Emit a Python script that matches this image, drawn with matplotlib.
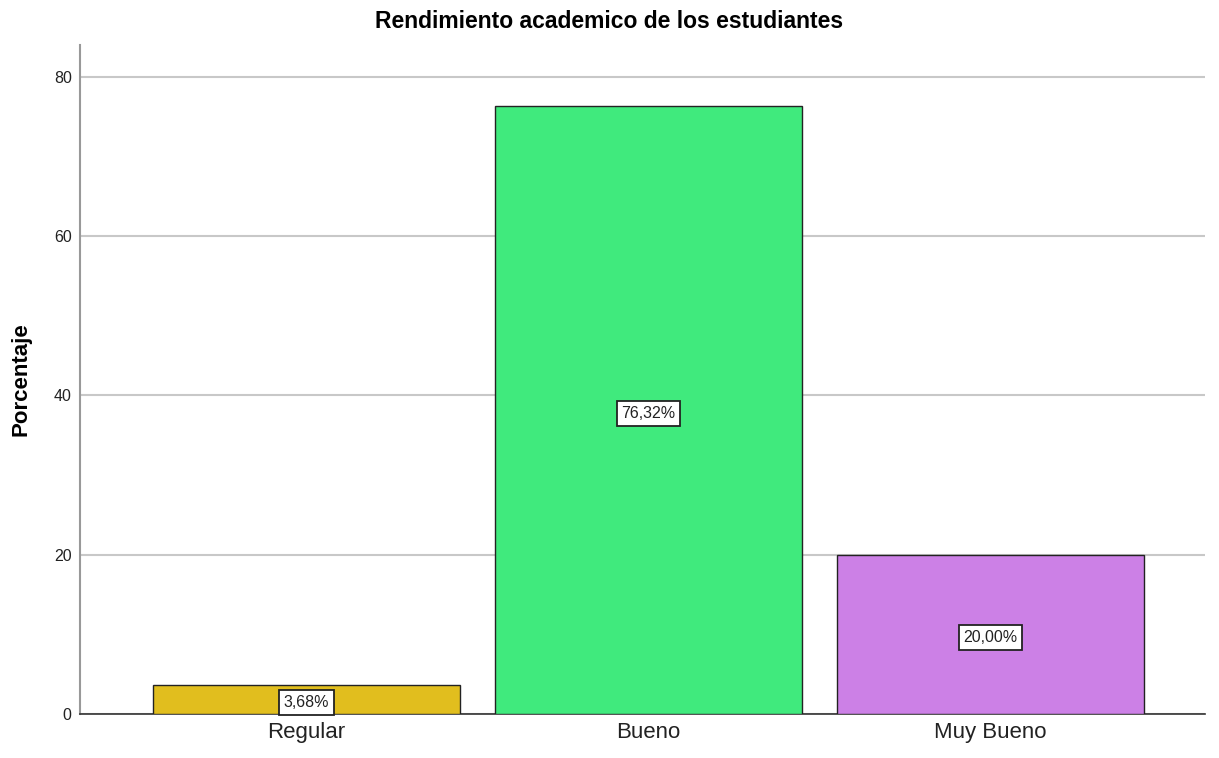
import matplotlib.pyplot as plt
import numpy as np

plt.rcParams['font.family'] = ['Liberation Sans', 'DejaVu Sans']

categorias = ['Regular', 'Bueno', 'Muy Bueno']
porcentajes = [3.68, 76.32, 20.00]
etiquetas = ['3,68%', '76,32%', '20,00%']
colores = ['#E1BE1E', '#40EA7D', '#CC80E6']

fig = plt.figure(figsize=(12.19, 7.58), dpi=100)
ax = fig.add_axes([0.0656, 0.058, 0.9229, 0.8826])

x = np.arange(len(categorias))
ax.bar(x, porcentajes, width=0.898, color=colores, edgecolor='#222222', linewidth=1, zorder=3)

# etiquetas en el centro de cada barra
for xi, v, lab in zip(x, porcentajes, etiquetas):
    ax.text(xi, v / 2 - 0.4, lab, ha='center', va='center', fontsize=11.5, color='#222222', zorder=4,
            bbox=dict(boxstyle='square,pad=0.3', facecolor='white', edgecolor='#222222', linewidth=1.3))

ax.set_xlim(-0.662, 2.627)
ax.set_ylim(0, 84)
ax.set_yticks([0, 20, 40, 60, 80])
ax.yaxis.grid(True, color='#C8C8C8', linewidth=1.5, zorder=0)
ax.set_axisbelow(True)
ax.set_xticks(x)
ax.set_xticklabels(categorias, fontsize=16, color='#222222')
ax.tick_params(axis='y', labelsize=11.5, length=0, pad=6, colors='#222222')
ax.tick_params(axis='x', length=0, pad=6)

ax.spines['top'].set_visible(False)
ax.spines['right'].set_visible(False)
ax.spines['left'].set_color('#999999')
ax.spines['left'].set_linewidth(1.5)
ax.spines['bottom'].set_color('#333333')
ax.spines['bottom'].set_linewidth(1.2)

ax.set_ylabel('Porcentaje', fontsize=16, fontweight='bold', labelpad=16)
fig.text(0.5, 1 - 22 / 758, 'Rendimiento academico de los estudiantes', ha='center', va='center',
         fontsize=16.5, fontweight='bold')

fig.savefig('out.png', dpi=100)
